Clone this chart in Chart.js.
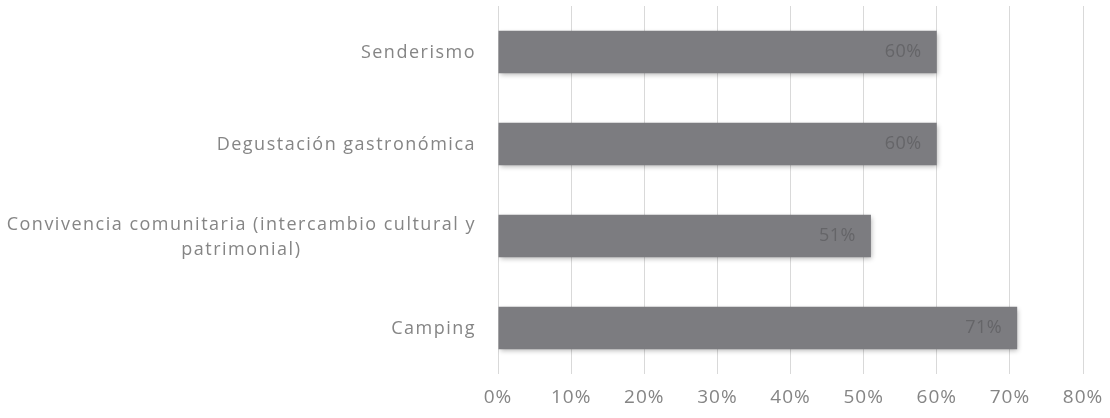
<!DOCTYPE html>
<html>
<head>
<meta charset="utf-8">
<script src="https://cdn.jsdelivr.net/npm/chart.js@4"></script>
<style>
  html, body { margin: 0; padding: 0; background: #fff; }
  #wrap { width: 1110px; height: 418px; }
</style>
</head>
<body>
<div id="wrap"><canvas id="chart"></canvas></div>
<script>
// Categories (top to bottom) and their percentages
const categories = [
    'Senderismo',
    'Degustación gastronómica',
    ['Convivencia comunitaria (intercambio cultural y', 'patrimonial)'],
    'Camping'
];
const values = [60, 60, 51, 71];
const xTicks = [0, 10, 20, 30, 40, 50, 60, 70, 80];

const textFont = '"Open Sans", "Noto Sans", sans-serif';

// Slightly spaced-out lettering, like the original
const spacing = {
    id: 'spacing',
    beforeDraw(chart) {
        chart.ctx.letterSpacing = '1px';
    }
};

// Draws category labels left of the bars (multi-line labels centred on their widest line)
const categoryLabels = {
    id: 'categoryLabels',
    afterDraw(chart) {
        const ctx = chart.ctx;
        const yScale = chart.scales.y;
        const right = chart.chartArea.left - 22;
        ctx.save();
        ctx.font = '18px ' + textFont;
        ctx.letterSpacing = '1.5px';
        ctx.fillStyle = '#858585';
        ctx.textBaseline = 'middle';
        categories.forEach((label, i) => {
            const lines = Array.isArray(label) ? label : [label];
            const y = yScale.getPixelForValue(i) + 1;
            const lineH = 25;
            const y0 = y - (lines.length - 1) * lineH / 2;
            if (lines.length === 1) {
                ctx.textAlign = 'right';
                ctx.fillText(lines[0], right, y0);
            } else {
                const widest = Math.max(...lines.map(l => ctx.measureText(l).width));
                ctx.textAlign = 'center';
                lines.forEach((l, k) => ctx.fillText(l, right - widest / 2, y0 + k * lineH));
            }
        });
        ctx.restore();
    }
};

// Value labels inside the end of each bar
const valueLabels = {
    id: 'valueLabels',
    afterDatasetsDraw(chart) {
        const ctx = chart.ctx;
        const meta = chart.getDatasetMeta(0);
        ctx.save();
        ctx.font = '18px ' + textFont;
        ctx.letterSpacing = '0.5px';
        ctx.fillStyle = '#656568';
        ctx.textAlign = 'right';
        ctx.textBaseline = 'middle';
        meta.data.forEach((bar, i) => {
            ctx.fillText(values[i] + '%', bar.x - 15, bar.y);
        });
        ctx.restore();
    }
};

// Soft shadow under the bars
const barShadow = {
    id: 'barShadow',
    beforeDatasetsDraw(chart) {
        const ctx = chart.ctx;
        ctx.save();
        ctx.shadowColor = 'rgba(0,0,0,0.3)';
        ctx.shadowBlur = 5;
        ctx.shadowOffsetX = 1;
        ctx.shadowOffsetY = 2;
    },
    afterDatasetsDraw(chart) {
        chart.ctx.restore();
    }
};

new Chart(document.getElementById('chart'), {
    type: 'bar',
    data: {
        labels: categories,
        datasets: [{
            data: values,
            backgroundColor: '#7c7c80',
            borderWidth: 0,
            categoryPercentage: 1,
            barPercentage: 0.46
        }]
    },
    options: {
        indexAxis: 'y',
        responsive: true,
        maintainAspectRatio: false,
        animation: false,
        layout: { padding: { top: 6, right: 27, bottom: 0, left: 0 } },
        plugins: {
            legend: { display: false },
            tooltip: { enabled: false }
        },
        scales: {
            x: {
                min: 0,
                max: 80,
                afterBuildTicks(scale) {
                    scale.ticks = xTicks.map(v => ({ value: v }));
                },
                afterFit(scale) {
                    scale.height = 44;
                    scale.paddingRight = 0;
                },
                border: { display: false },
                grid: { color: '#d9d9d9', lineWidth: 1, drawTicks: false },
                ticks: {
                    padding: 12,
                    maxRotation: 0,
                    color: '#858585',
                    font: { family: textFont, size: 19 },
                    callback: v => v + '%'
                }
            },
            y: {
                afterFit(scale) { scale.width = 498; },
                border: { display: false },
                grid: { display: false },
                ticks: { display: false }
            }
        }
    },
    plugins: [spacing, barShadow, valueLabels, categoryLabels]
});
</script>
</body>
</html>
